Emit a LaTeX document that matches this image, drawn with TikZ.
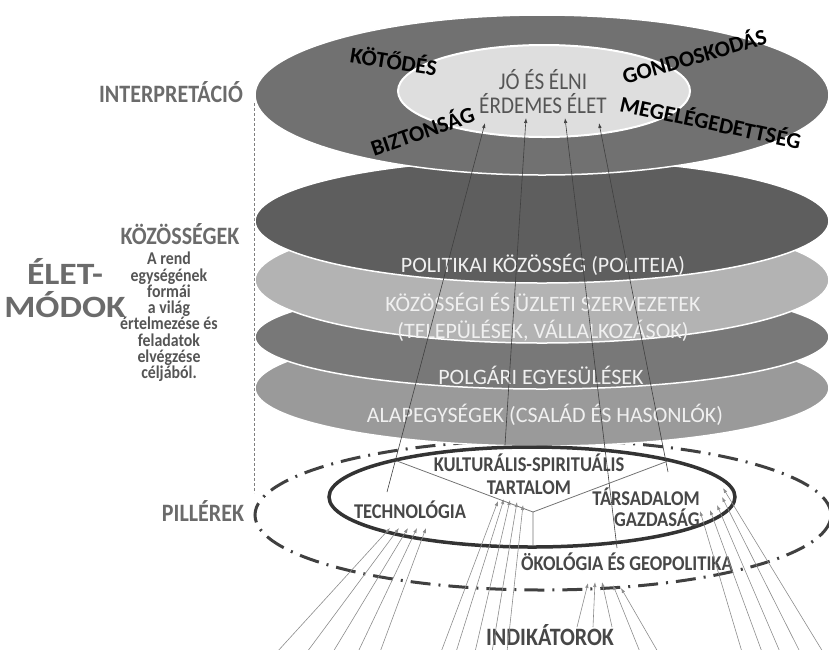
\documentclass[tikz,border=0pt]{standalone}
\usepackage{fontspec}
\setmainfont{Carlito}
\newfontfamily\narrowfont[FakeStretch=0.88]{Carlito}
\newfontfamily\widefont[FakeStretch=1.15]{Carlito}
\usetikzlibrary{arrows.meta}

\definecolor{ringgray}{HTML}{717171}
\definecolor{coregray}{HTML}{DEDEDE}
\definecolor{politeiagray}{HTML}{5E5E5E}
\definecolor{kozossegigray}{HTML}{B3B3B3}
\definecolor{polgarigray}{HTML}{787878}
\definecolor{alapgray}{HTML}{9A9A9A}
\definecolor{labelgray}{HTML}{6B6B6B}
\definecolor{textgray}{HTML}{555555}
\definecolor{pillargray}{HTML}{474747}

\begin{document}
\begin{tikzpicture}[x=1pt,y=-1pt]
    \tikzset{layer/.style = {draw=white, line width=1.5pt}}
    \tikzset{sidelabel/.style = {text=labelgray, font=\narrowfont\bfseries\fontsize{25}{25}\selectfont}}
    \tikzset{value/.style = {font=\bfseries\fontsize{22.5}{22.5}\selectfont}}
    \tikzset{layertext/.style = {text=white!94!black, font=\fontsize{22}{27}\selectfont}}
    \tikzset{pillar/.style = {text=pillargray, font=\narrowfont\bfseries\fontsize{21}{23}\selectfont}}
    \tikzset{link/.style = {draw=black!75, line width=0.6pt, -{Latex[length=5pt,width=3.5pt]}}}
    \tikzset{ind/.style = {draw=black!45, line width=0.6pt, -{Latex[length=5pt,width=3.5pt]}}}

    \useasboundingbox (0,0) rectangle (829,649);

    % pillar ring, behind the layers
    \draw[draw=black!75, line width=3pt, dash pattern=on 20pt off 8pt on 2pt off 8pt] (543,515) ellipse [x radius=288pt, y radius=75pt];

    % layers, bottom first
    \draw[layer, fill=alapgray] (542,388) ellipse [x radius=287pt, y radius=58pt];
    \draw[layer, fill=polgarigray] (542,337) ellipse [x radius=287pt, y radius=52pt];
    \draw[layer, fill=kozossegigray] (542,280) ellipse [x radius=287pt, y radius=63pt];
    \draw[layer, fill=politeiagray] (542,221) ellipse [x radius=287pt, y radius=62pt];
    \draw[layer, fill=ringgray] (542,95) ellipse [x radius=287pt, y radius=80pt];
    \draw[draw=white, line width=2pt, fill=coregray] (544,91) ellipse [x radius=146pt, y radius=46pt];

    % pillars
    \draw[draw=black!80, line width=3.5pt] (532,497) ellipse [x radius=203pt, y radius=50pt];
    \coordinate (hub) at (533,512);
    \coordinate (hubl) at (397,461);
    \coordinate (hubr) at (668,461);
    \coordinate (hubb) at (533,546);
    \draw[black!55, line width=0.8pt] (hubl) -- (hub) -- (hubr) (hub) -- (hubb);

    % side labels
    \coordinate (dtop) at (254,103);
    \coordinate (dbot) at (254,493);
    \draw[black!50, line width=0.6pt, dash pattern=on 3pt off 2pt] (dtop) -- (dbot);
    \node[sidelabel] (interp) at (171,92) {INTERPRETÁCIÓ};
    \node[sidelabel] (kozos) at (180,234) {KÖZÖSSÉGEK};
    \node[sidelabel] (piller) at (203,511) {PILLÉREK};
    \node[text=labelgray, font=\widefont\bfseries\fontsize{31}{33}\selectfont, align=center] (eletmod) at (65,288) {ÉLET-\\MÓDOK};
    \node[text=textgray, font=\narrowfont\bfseries\fontsize{18}{16.3}\selectfont, align=center] (rend) at (169,317)
        {A rend\\egységének\\formái\\a világ\\értelmezése és\\feladatok\\elvégzése\\céljából.};

    % interpretation
    \node[text=textgray, font=\narrowfont\fontsize{24}{24}\selectfont, align=center] (jo) at (543,92) {JÓ ÉS ÉLNI\\ÉRDEMES ÉLET};
    \node[value, rotate=-9] (kot) at (394,60) {KÖTŐDÉS};
    \node[value, rotate=19] (bizt) at (422,130) {BIZTONSÁG};
    \node[value, rotate=16] (gond) at (694,55) {GONDOSKODÁS};
    \node[value, rotate=-12] (megel) at (711,121) {MEGELÉGEDETTSÉG};

    % communities
    \node[layertext] (politeia) at (543,265) {POLITIKAI KÖZÖSSÉG (POLITEIA)};
    \node[layertext, align=center] (szerv) at (543,317) {KÖZÖSSÉGI ÉS ÜZLETI SZERVEZETEK\\(TELEPÜLÉSEK, VÁLLALKOZÁSOK)};
    \node[layertext] (polgari) at (541,375) {POLGÁRI EGYESÜLÉSEK};
    \node[layertext] (alap) at (545,415) {ALAPEGYSÉGEK (CSALÁD ÉS HASONLÓK)};

    % pillar names
    \node[pillar, align=center] (kult) at (529,474) {KULTURÁLIS-SPIRITUÁLIS\\TARTALOM};
    \node[pillar] (tech) at (410,510) {TECHNOLÓGIA};
    \node[pillar, align=right, font=\narrowfont\bfseries\fontsize{21}{21}\selectfont] (tars) at (646,507) {TÁRSADALOM\\GAZDASÁG};
    \node[pillar] (okol) at (627,562) {ÖKOLÓGIA ÉS GEOPOLITIKA};
    \node[pillar, font=\narrowfont\bfseries\fontsize{25}{25}\selectfont] (indik) at (550,635) {INDIKÁTOROK};

    % links up to the good life
    \coordinate (g1) at (485,123);
    \coordinate (g2) at (526,118);
    \coordinate (g3) at (565,118);
    \coordinate (g4) at (599,123);
    \coordinate (s1) at (387,492);
    \coordinate (s2) at (505,445);
    \coordinate (s3) at (617,548);
    \coordinate (s4) at (668,472);
    \draw[link] (s1) -- (g1);
    \draw[link] (s2) -- (g2);
    \draw[link] (s3) -- (g3);
    \draw[link] (s4) -- (g4);

    % indicators
    \foreach \bx/\by/\tx/\ty [count=\i] in {277/652/390/528, 307/652/399/528, 333/652/408/528, 358/652/417/528, 380/652/426/528,
        441/652/498/501, 456/652/504/499, 475/652/510/500, 492/652/517/502, 507/652/523/505,
        577/627/588/583, 593/627/595/582, 612/627/602/582, 640/652/613/585, 658/652/621/588,
        742/652/700/511, 762/652/710/510, 780/652/717/505, 800/652/722/497, 823/652/723/488}{
        \coordinate (ib\i) at (\bx,\by);
        \coordinate (ia\i) at (\tx,\ty);
        \draw[ind] (ib\i) -- (ia\i);
    }
\end{tikzpicture}
\end{document}
